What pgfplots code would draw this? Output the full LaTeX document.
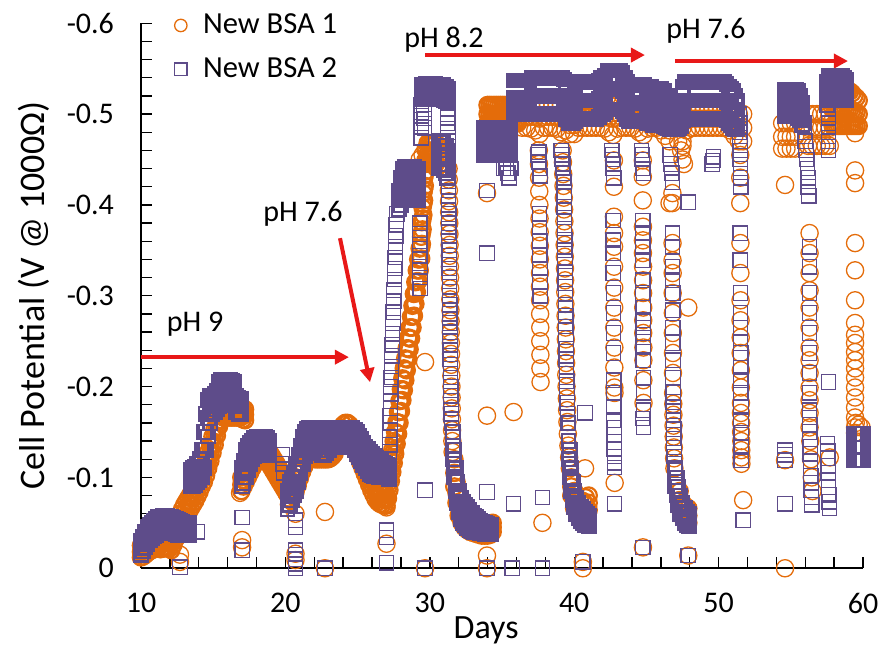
\documentclass[border=0pt]{standalone}
\usepackage{fontspec}
\setmainfont{Carlito}
\usepackage{pgfplots}
\usepackage{pgfplotstable}
\pgfplotsset{compat=1.18}
\usetikzlibrary{arrows.meta}
\definecolor{bsaor}{RGB}{228,108,10}
\definecolor{bsapu}{RGB}{94,76,138}
\definecolor{arrred}{RGB}{232,24,24}

\pgfplotstableread{
x a b c
10.0 -0.030 -0.022 -0.015
10.15 -0.035 -0.027 -0.019
10.3 -0.040 -0.032 -0.023
10.45 -0.045 -0.036 -0.027
10.6 -0.048 -0.040 -0.031
10.75 -0.050 -0.042 -0.033
10.9 -0.052 -0.044 -0.035
11.05 -0.054 -0.046 -0.037
11.2 -0.056 -0.048 -0.039
11.35 -0.057 -0.049 -0.040
11.5 -0.058 -0.050 -0.041
11.65 -0.058 -0.050 -0.042
11.8 -0.058 -0.050 -0.042
11.95 -0.057 -0.049 -0.041
12.1 -0.056 -0.048 -0.040
12.25 -0.055 -0.047 -0.039
12.4 -0.054 -0.046 -0.038
12.55 -0.053 -0.045 -0.037
12.7 -0.052 -0.044 -0.036
12.85 -0.051 -0.043 -0.036
13.0 -0.050 -0.043 -0.036
13.15 -0.050 -0.043 -0.036
13.3 -0.050 -0.043 -0.036
13.45 -0.108 -0.099 -0.090
13.6 -0.110 -0.100 -0.090
13.75 -0.112 -0.102 -0.092
13.9 -0.115 -0.105 -0.095
14.05 -0.120 -0.108 -0.097
14.2 -0.130 -0.115 -0.100
14.35 -0.150 -0.130 -0.110
14.5 -0.170 -0.150 -0.130
14.65 -0.185 -0.165 -0.145
14.8 -0.190 -0.175 -0.160
14.95 -0.190 -0.180 -0.170
15.1 -0.192 -0.182 -0.172
15.25 -0.195 -0.185 -0.175
15.4 -0.205 -0.192 -0.178
15.55 -0.207 -0.194 -0.180
15.7 -0.207 -0.195 -0.182
15.85 -0.207 -0.195 -0.182
16.0 -0.207 -0.195 -0.182
16.15 -0.207 -0.195 -0.182
16.3 -0.206 -0.194 -0.182
16.45 -0.205 -0.193 -0.180
16.6 -0.190 -0.180 -0.172
16.75 -0.188 -0.178 -0.170
16.9 -0.186 -0.178 -0.170
17.0 -0.110 -0.100 -0.090
17.1 -0.118 -0.106 -0.094
17.25 -0.130 -0.115 -0.100
17.4 -0.135 -0.122 -0.108
17.55 -0.138 -0.127 -0.115
17.7 -0.140 -0.130 -0.120
17.85 -0.143 -0.133 -0.124
18.0 -0.145 -0.135 -0.126
18.15 -0.145 -0.136 -0.127
18.3 -0.145 -0.137 -0.128
18.45 -0.145 -0.137 -0.128
18.6 -0.145 -0.137 -0.128
18.75 -0.144 -0.136 -0.128
18.9 -0.140 -0.133 -0.125
20.15 -0.085 -0.075 -0.065
20.3 -0.095 -0.082 -0.070
20.45 -0.100 -0.088 -0.075
20.6 -0.105 -0.092 -0.080
20.75 -0.115 -0.100 -0.085
20.9 -0.125 -0.110 -0.095
21.05 -0.135 -0.120 -0.105
21.2 -0.145 -0.130 -0.115
21.35 -0.150 -0.137 -0.123
21.5 -0.153 -0.142 -0.130
21.65 -0.155 -0.144 -0.132
21.8 -0.155 -0.144 -0.133
21.95 -0.155 -0.144 -0.133
22.1 -0.155 -0.144 -0.133
22.25 -0.155 -0.143 -0.130
22.4 -0.155 -0.141 -0.127
22.55 -0.155 -0.140 -0.125
22.7 -0.155 -0.140 -0.125
22.85 -0.155 -0.141 -0.127
23.0 -0.155 -0.143 -0.130
23.15 -0.155 -0.144 -0.133
23.3 -0.155 -0.144 -0.133
23.45 -0.155 -0.144 -0.133
23.6 -0.155 -0.144 -0.133
23.75 -0.155 -0.144 -0.134
23.9 -0.155 -0.145 -0.135
24.05 -0.155 -0.145 -0.135
24.2 -0.155 -0.145 -0.135
24.35 -0.155 -0.145 -0.135
24.5 -0.155 -0.145 -0.135
24.65 -0.154 -0.143 -0.133
24.8 -0.152 -0.141 -0.130
24.95 -0.150 -0.138 -0.126
25.1 -0.146 -0.134 -0.122
25.25 -0.142 -0.130 -0.118
25.4 -0.138 -0.126 -0.114
25.55 -0.134 -0.122 -0.110
25.7 -0.131 -0.119 -0.107
25.85 -0.128 -0.116 -0.104
26.0 -0.126 -0.114 -0.103
26.15 -0.124 -0.113 -0.102
26.3 -0.122 -0.112 -0.101
26.45 -0.120 -0.110 -0.100
26.6 -0.118 -0.109 -0.100
26.75 -0.116 -0.108 -0.100
26.9 -0.115 -0.107 -0.100
27.05 -0.114 -0.106 -0.100
27.2 -0.113 -0.105 -0.098
27.85 -0.415 -0.405 -0.395
28.0 -0.430 -0.415 -0.400
28.15 -0.440 -0.423 -0.405
28.3 -0.442 -0.425 -0.405
28.45 -0.442 -0.425 -0.405
28.6 -0.442 -0.425 -0.405
28.75 -0.442 -0.425 -0.405
28.9 -0.442 -0.425 -0.405
29.05 -0.440 -0.423 -0.405
29.2 -0.440 -0.423 -0.405
29.45 -0.532 -0.524 -0.516
29.6 -0.532 -0.524 -0.516
29.75 -0.533 -0.524 -0.516
29.9 -0.533 -0.524 -0.516
30.05 -0.533 -0.524 -0.516
30.2 -0.533 -0.524 -0.516
30.35 -0.533 -0.524 -0.516
30.5 -0.532 -0.524 -0.516
30.65 -0.532 -0.524 -0.516
30.8 -0.532 -0.524 -0.516
30.95 -0.532 -0.523 -0.515
31.1 -0.530 -0.522 -0.514
31.25 -0.528 -0.520 -0.512
30.65 -0.470 -0.455 -0.440
30.8 -0.470 -0.455 -0.440
30.95 -0.468 -0.453 -0.438
31.1 -0.465 -0.450 -0.435
31.25 -0.460 -0.445 -0.430
31.6 -0.150 -0.135 -0.120
31.7 -0.130 -0.115 -0.100
31.8 -0.110 -0.097 -0.085
31.9 -0.095 -0.083 -0.072
32.0 -0.085 -0.073 -0.062
32.15 -0.078 -0.066 -0.054
32.3 -0.073 -0.062 -0.050
32.45 -0.070 -0.058 -0.047
32.6 -0.067 -0.055 -0.044
32.75 -0.064 -0.053 -0.042
32.9 -0.061 -0.051 -0.041
33.05 -0.058 -0.049 -0.040
33.2 -0.056 -0.048 -0.040
33.35 -0.054 -0.047 -0.040
33.5 -0.052 -0.046 -0.039
33.65 -0.051 -0.045 -0.039
33.8 -0.050 -0.044 -0.038
33.95 -0.049 -0.043 -0.038
34.1 -0.048 -0.043 -0.038
34.25 -0.048 -0.043 -0.038
33.75 -0.485 -0.470 -0.455
33.9 -0.485 -0.470 -0.455
34.05 -0.485 -0.470 -0.455
34.2 -0.485 -0.470 -0.455
34.35 -0.485 -0.470 -0.455
34.5 -0.485 -0.470 -0.455
34.65 -0.485 -0.470 -0.455
34.8 -0.485 -0.470 -0.455
34.95 -0.485 -0.470 -0.455
35.1 -0.485 -0.470 -0.455
35.25 -0.485 -0.470 -0.455
35.4 -0.485 -0.470 -0.455
35.55 -0.485 -0.470 -0.455
35.85 -0.537 -0.518 -0.500
36.0 -0.537 -0.518 -0.500
36.15 -0.537 -0.518 -0.500
36.3 -0.537 -0.518 -0.500
36.45 -0.537 -0.518 -0.500
36.6 -0.537 -0.518 -0.500
36.75 -0.537 -0.518 -0.500
36.9 -0.537 -0.518 -0.500
37.05 -0.540 -0.520 -0.500
37.2 -0.540 -0.520 -0.500
37.35 -0.540 -0.520 -0.500
37.5 -0.540 -0.520 -0.500
37.65 -0.540 -0.520 -0.500
37.8 -0.540 -0.520 -0.500
37.95 -0.540 -0.520 -0.500
38.1 -0.540 -0.520 -0.500
38.25 -0.540 -0.520 -0.500
38.4 -0.540 -0.520 -0.500
38.55 -0.540 -0.520 -0.500
38.7 -0.540 -0.520 -0.500
38.85 -0.540 -0.520 -0.500
39.0 -0.540 -0.520 -0.500
39.15 -0.540 -0.520 -0.500
39.3 -0.538 -0.518 -0.500
39.45 -0.530 -0.512 -0.495
39.6 -0.520 -0.505 -0.490
39.75 -0.520 -0.505 -0.490
39.9 -0.520 -0.505 -0.490
40.05 -0.525 -0.508 -0.492
40.2 -0.535 -0.515 -0.495
40.35 -0.535 -0.515 -0.495
40.5 -0.535 -0.515 -0.495
40.65 -0.535 -0.515 -0.495
40.8 -0.535 -0.515 -0.495
40.95 -0.535 -0.515 -0.495
41.1 -0.535 -0.515 -0.495
41.25 -0.535 -0.515 -0.495
41.4 -0.535 -0.515 -0.495
41.55 -0.535 -0.515 -0.495
41.7 -0.537 -0.517 -0.497
41.85 -0.540 -0.520 -0.500
42.0 -0.540 -0.520 -0.500
42.15 -0.542 -0.522 -0.502
42.3 -0.548 -0.528 -0.505
42.45 -0.548 -0.528 -0.505
42.6 -0.548 -0.528 -0.505
42.75 -0.548 -0.528 -0.505
42.9 -0.548 -0.528 -0.505
43.05 -0.548 -0.528 -0.505
43.2 -0.548 -0.528 -0.505
43.35 -0.545 -0.525 -0.503
43.5 -0.540 -0.520 -0.500
43.65 -0.535 -0.515 -0.495
43.8 -0.532 -0.512 -0.492
43.95 -0.532 -0.512 -0.492
44.1 -0.532 -0.512 -0.492
44.25 -0.532 -0.512 -0.492
44.4 -0.532 -0.512 -0.492
44.55 -0.532 -0.512 -0.492
44.7 -0.532 -0.512 -0.492
44.85 -0.532 -0.512 -0.492
45.0 -0.530 -0.510 -0.490
45.15 -0.530 -0.510 -0.490
45.3 -0.530 -0.510 -0.490
45.45 -0.528 -0.508 -0.488
45.6 -0.528 -0.508 -0.488
45.75 -0.528 -0.508 -0.488
45.9 -0.528 -0.508 -0.488
46.05 -0.528 -0.508 -0.488
46.2 -0.525 -0.506 -0.487
46.35 -0.520 -0.503 -0.486
46.5 -0.515 -0.500 -0.485
46.65 -0.510 -0.497 -0.484
46.8 -0.510 -0.497 -0.484
46.95 -0.510 -0.497 -0.484
47.1 -0.512 -0.498 -0.484
47.25 -0.515 -0.500 -0.485
47.4 -0.520 -0.503 -0.487
47.55 -0.530 -0.512 -0.493
47.7 -0.535 -0.515 -0.495
47.85 -0.535 -0.515 -0.495
48.0 -0.535 -0.515 -0.495
48.15 -0.535 -0.515 -0.495
48.3 -0.535 -0.515 -0.495
48.45 -0.535 -0.515 -0.495
48.6 -0.535 -0.515 -0.495
48.75 -0.535 -0.515 -0.495
48.9 -0.535 -0.515 -0.495
49.05 -0.535 -0.515 -0.495
49.2 -0.535 -0.515 -0.495
49.35 -0.535 -0.515 -0.495
49.5 -0.535 -0.515 -0.495
49.65 -0.535 -0.515 -0.495
49.8 -0.535 -0.515 -0.495
49.95 -0.535 -0.515 -0.495
50.1 -0.535 -0.515 -0.495
50.25 -0.535 -0.515 -0.495
50.4 -0.535 -0.515 -0.495
50.55 -0.533 -0.513 -0.493
50.7 -0.530 -0.510 -0.490
50.85 -0.528 -0.508 -0.488
51.0 -0.525 -0.505 -0.485
51.15 -0.520 -0.502 -0.484
51.3 -0.515 -0.500 -0.484
54.6 -0.527 -0.512 -0.498
54.75 -0.527 -0.512 -0.498
54.9 -0.527 -0.512 -0.498
55.05 -0.527 -0.512 -0.498
55.2 -0.527 -0.512 -0.498
55.35 -0.527 -0.512 -0.498
55.5 -0.525 -0.510 -0.496
55.65 -0.520 -0.506 -0.493
55.8 -0.512 -0.500 -0.488
57.5 -0.535 -0.522 -0.510
57.65 -0.542 -0.528 -0.515
57.8 -0.542 -0.528 -0.515
57.95 -0.542 -0.528 -0.515
58.1 -0.542 -0.528 -0.515
58.25 -0.542 -0.528 -0.515
58.4 -0.542 -0.528 -0.515
58.55 -0.542 -0.528 -0.515
58.7 -0.540 -0.527 -0.515
58.85 -0.538 -0.526 -0.515
59.4 -0.148 -0.133 -0.119
59.55 -0.148 -0.133 -0.119
59.7 -0.148 -0.133 -0.119
59.85 -0.148 -0.133 -0.119
60.0 -0.148 -0.133 -0.119
39.6 -0.160 -0.140 -0.120
39.7 -0.130 -0.115 -0.100
39.8 -0.110 -0.098 -0.085
39.9 -0.095 -0.085 -0.075
40.0 -0.085 -0.076 -0.067
40.15 -0.077 -0.068 -0.060
40.3 -0.072 -0.063 -0.055
40.45 -0.068 -0.060 -0.052
40.6 -0.065 -0.057 -0.050
40.75 -0.062 -0.055 -0.048
40.9 -0.060 -0.053 -0.047
41.0 -0.058 -0.052 -0.046
47.0 -0.110 -0.100 -0.090
47.1 -0.100 -0.090 -0.080
47.2 -0.090 -0.080 -0.070
47.35 -0.080 -0.070 -0.060
47.5 -0.072 -0.062 -0.055
47.65 -0.066 -0.057 -0.050
47.8 -0.062 -0.054 -0.047
47.95 -0.060 -0.052 -0.046
}\Pmain

\pgfplotstableread{
x y
12.7 -0.001
13.9 -0.040
17.0 -0.111
17.0 -0.056
17.0 -0.020
19.8 -0.125
19.85 -0.115
19.9 -0.105
20.7 -0.053
20.7 -0.045
20.7 -0.020
20.7 -0.015
20.7 -0.010
20.7 -0.005
20.7 0.000
22.74 0.000
27.0 -0.042
27.0 -0.034
27.0 -0.006
29.67 -0.086
29.67 0.000
27.20 -0.120
27.21 -0.128
27.22 -0.136
27.23 -0.144
27.24 -0.152
27.25 -0.160
27.26 -0.168
27.27 -0.176
27.28 -0.184
27.29 -0.192
27.30 -0.200
27.32 -0.210
27.35 -0.222
27.37 -0.234
27.40 -0.246
27.42 -0.258
27.45 -0.270
27.47 -0.282
27.50 -0.294
27.52 -0.306
27.55 -0.318
27.57 -0.330
27.60 -0.342
27.62 -0.354
27.65 -0.366
27.68 -0.378
27.72 -0.390
29.30 -0.380
29.30 -0.368
29.31 -0.356
29.31 -0.344
29.32 -0.332
29.32 -0.320
29.33 -0.308
29.40 -0.510
29.40 -0.498
29.41 -0.486
29.41 -0.474
29.60 -0.505
29.62 -0.495
29.64 -0.485
30.90 -0.460
30.95 -0.450
31.00 -0.440
31.05 -0.465
31.10 -0.452
31.15 -0.440
31.20 -0.430
31.25 -0.500
31.25 -0.490
31.26 -0.480
31.26 -0.470
31.27 -0.460
31.27 -0.450
31.28 -0.440
31.28 -0.430
31.29 -0.420
31.30 -0.410
31.30 -0.400
31.31 -0.390
31.32 -0.380
31.32 -0.370
31.33 -0.360
31.34 -0.350
31.34 -0.340
31.35 -0.330
31.36 -0.320
31.36 -0.310
31.37 -0.300
31.38 -0.290
31.38 -0.280
31.39 -0.270
31.40 -0.260
31.40 -0.250
31.41 -0.240
31.42 -0.230
31.43 -0.220
31.44 -0.210
31.45 -0.200
31.46 -0.190
31.47 -0.180
31.48 -0.170
31.50 -0.160
33.96 -0.416
33.96 -0.347
33.96 -0.084
33.96 0.000
35.10 -0.440
35.30 -0.440
35.40 -0.435
35.50 -0.430
35.60 -0.440
35.8 -0.071
35.7 0.000
37.50 -0.455
37.55 -0.447
37.60 -0.440
37.65 -0.432
37.55 -0.458
37.60 -0.390
37.60 -0.375
37.62 -0.360
37.62 -0.345
37.63 -0.330
37.63 -0.315
37.64 -0.300
37.8 -0.078
37.8 0.000
39.10 -0.460
39.15 -0.450
39.20 -0.440
39.25 -0.430
39.15 -0.455
39.20 -0.445
39.25 -0.435
39.30 -0.425
39.30 -0.410
39.31 -0.398
39.32 -0.386
39.33 -0.374
39.34 -0.362
39.35 -0.350
39.36 -0.338
39.37 -0.326
39.38 -0.314
39.39 -0.302
39.40 -0.290
39.41 -0.278
39.42 -0.266
39.43 -0.254
39.44 -0.242
39.45 -0.230
39.46 -0.218
39.48 -0.206
39.50 -0.194
39.52 -0.182
39.54 -0.170
39.56 -0.160
40.6 -0.007
40.75 -0.171
42.60 -0.460
42.65 -0.450
42.70 -0.440
42.75 -0.430
42.65 -0.455
42.70 -0.445
42.70 -0.383
42.70 -0.361
42.71 -0.347
42.71 -0.325
42.72 -0.303
42.72 -0.281
42.73 -0.259
42.73 -0.237
42.74 -0.207
42.74 -0.193
42.75 -0.177
42.75 -0.163
42.76 -0.155
42.76 -0.147
42.77 -0.139
42.77 -0.131
42.78 -0.123
42.78 -0.116
42.79 -0.111
42.8 -0.071
44.65 -0.460
44.70 -0.450
44.75 -0.440
44.80 -0.435
44.70 -0.455
44.75 -0.383
44.75 -0.369
44.75 -0.354
44.76 -0.339
44.76 -0.317
44.76 -0.303
44.77 -0.287
44.77 -0.273
44.77 -0.265
44.78 -0.254
44.78 -0.243
44.78 -0.229
44.79 -0.210
44.79 -0.193
44.80 -0.174
44.80 -0.155
44.76 -0.165
44.76 -0.023
46.65 -0.455
46.70 -0.445
46.75 -0.435
46.80 -0.425
46.80 -0.369
46.80 -0.354
46.81 -0.332
46.81 -0.317
46.82 -0.303
46.82 -0.284
46.83 -0.265
46.83 -0.248
46.84 -0.229
46.84 -0.210
46.85 -0.193
46.86 -0.183
46.87 -0.173
46.88 -0.163
46.89 -0.153
46.90 -0.143
46.91 -0.133
46.92 -0.123
46.94 -0.115
46.96 -0.108
47.9 -0.403
47.9 -0.014
49.55 -0.445
49.60 -0.449
49.65 -0.453
51.45 -0.500
51.46 -0.490
51.47 -0.480
51.48 -0.470
51.49 -0.460
51.50 -0.450
51.51 -0.440
51.52 -0.430
51.53 -0.420
51.50 -0.369
51.50 -0.339
51.51 -0.303
51.51 -0.281
51.52 -0.265
51.52 -0.248
51.53 -0.237
51.53 -0.221
51.54 -0.207
51.54 -0.193
51.55 -0.177
51.55 -0.163
51.56 -0.149
51.56 -0.133
51.57 -0.119
51.7 -0.053
54.6 -0.071
54.6 -0.119
54.6 -0.125
54.6 -0.130
55.90 -0.490
55.95 -0.480
56.00 -0.470
56.05 -0.460
56.10 -0.450
56.15 -0.440
56.20 -0.430
56.20 -0.420
56.25 -0.410
56.30 -0.354
56.30 -0.332
56.30 -0.303
56.30 -0.281
56.30 -0.259
56.30 -0.237
56.30 -0.215
56.30 -0.193
56.30 -0.174
56.30 -0.166
56.31 -0.158
56.32 -0.150
56.33 -0.142
56.34 -0.134
56.35 -0.126
56.36 -0.118
56.37 -0.110
56.38 -0.102
56.40 -0.094
56.42 -0.086
56.44 -0.078
56.46 -0.070
57.55 -0.137
57.56 -0.129
57.57 -0.121
57.58 -0.113
57.59 -0.105
57.60 -0.097
57.62 -0.089
57.64 -0.081
57.66 -0.073
57.68 -0.066
57.60 -0.510
57.60 -0.500
57.60 -0.490
57.60 -0.480
57.60 -0.470
57.60 -0.460
57.6 -0.205
}\Pcol

\pgfplotstableread{
x a b c
10.0 -0.025 -0.018 -0.012
10.15 -0.028 -0.020 -0.013
10.3 -0.030 -0.022 -0.015
10.45 -0.032 -0.024 -0.017
10.6 -0.034 -0.026 -0.019
10.75 -0.036 -0.028 -0.020
10.9 -0.037 -0.029 -0.021
11.05 -0.037 -0.029 -0.022
11.2 -0.036 -0.029 -0.022
11.35 -0.035 -0.028 -0.021
11.5 -0.034 -0.028 -0.022
11.65 -0.034 -0.028 -0.022
11.8 -0.034 -0.028 -0.022
11.95 -0.034 -0.028 -0.022
12.1 -0.035 -0.028 -0.020
12.25 -0.042 -0.034 -0.026
12.4 -0.048 -0.040 -0.032
12.55 -0.054 -0.046 -0.038
12.7 -0.060 -0.051 -0.042
12.85 -0.065 -0.056 -0.047
13.0 -0.070 -0.061 -0.052
13.15 -0.074 -0.066 -0.057
13.3 -0.078 -0.070 -0.062
13.45 -0.082 -0.074 -0.066
13.6 -0.086 -0.078 -0.070
13.75 -0.090 -0.082 -0.074
13.9 -0.095 -0.087 -0.079
14.05 -0.100 -0.092 -0.084
14.2 -0.106 -0.098 -0.090
14.35 -0.113 -0.104 -0.095
14.5 -0.120 -0.111 -0.102
14.65 -0.128 -0.119 -0.110
14.8 -0.136 -0.127 -0.118
14.95 -0.145 -0.136 -0.127
15.1 -0.154 -0.145 -0.136
15.25 -0.162 -0.154 -0.146
15.4 -0.170 -0.163 -0.156
15.55 -0.175 -0.169 -0.163
15.7 -0.178 -0.172 -0.166
15.85 -0.178 -0.172 -0.166
16.0 -0.178 -0.172 -0.166
16.15 -0.178 -0.172 -0.166
16.3 -0.178 -0.172 -0.166
16.45 -0.178 -0.172 -0.166
16.6 -0.178 -0.172 -0.166
16.75 -0.178 -0.172 -0.166
16.9 -0.178 -0.172 -0.166
17.05 -0.176 -0.170 -0.164
17.2 -0.175 -0.169 -0.163
16.95 -0.100 -0.092 -0.085
17.1 -0.105 -0.097 -0.090
17.25 -0.110 -0.102 -0.095
17.4 -0.115 -0.107 -0.100
17.55 -0.120 -0.112 -0.105
17.7 -0.124 -0.117 -0.110
17.85 -0.128 -0.121 -0.114
18.0 -0.131 -0.124 -0.117
18.15 -0.133 -0.126 -0.119
18.3 -0.134 -0.127 -0.120
18.45 -0.134 -0.127 -0.120
18.6 -0.133 -0.126 -0.119
18.75 -0.131 -0.124 -0.117
18.9 -0.128 -0.121 -0.114
19.05 -0.124 -0.117 -0.110
19.2 -0.120 -0.113 -0.106
19.35 -0.116 -0.109 -0.102
19.5 -0.112 -0.105 -0.098
19.65 -0.108 -0.101 -0.094
19.8 -0.104 -0.097 -0.090
19.95 -0.100 -0.093 -0.086
20.1 -0.096 -0.089 -0.082
20.25 -0.085 -0.077 -0.070
20.4 -0.090 -0.082 -0.074
20.55 -0.095 -0.087 -0.079
20.7 -0.100 -0.092 -0.084
20.85 -0.107 -0.099 -0.091
21.0 -0.115 -0.107 -0.099
21.15 -0.122 -0.114 -0.106
21.3 -0.128 -0.120 -0.112
21.45 -0.132 -0.125 -0.118
21.6 -0.136 -0.129 -0.122
21.75 -0.136 -0.129 -0.122
21.9 -0.136 -0.129 -0.122
22.05 -0.134 -0.127 -0.120
22.2 -0.132 -0.126 -0.120
22.35 -0.132 -0.126 -0.120
22.5 -0.132 -0.126 -0.120
22.65 -0.132 -0.126 -0.120
22.8 -0.132 -0.126 -0.120
22.95 -0.132 -0.126 -0.120
23.1 -0.133 -0.127 -0.121
23.25 -0.135 -0.129 -0.123
23.4 -0.140 -0.133 -0.126
23.55 -0.146 -0.139 -0.132
23.7 -0.151 -0.144 -0.137
23.85 -0.155 -0.148 -0.141
24.0 -0.158 -0.151 -0.144
24.15 -0.160 -0.153 -0.146
24.3 -0.160 -0.153 -0.146
24.45 -0.158 -0.151 -0.144
24.6 -0.154 -0.147 -0.140
24.75 -0.148 -0.141 -0.134
24.9 -0.142 -0.135 -0.128
25.05 -0.136 -0.129 -0.122
25.2 -0.130 -0.123 -0.116
25.35 -0.124 -0.117 -0.110
25.5 -0.118 -0.111 -0.104
25.65 -0.112 -0.105 -0.098
25.8 -0.106 -0.099 -0.092
25.95 -0.100 -0.093 -0.086
26.1 -0.095 -0.088 -0.081
26.25 -0.090 -0.083 -0.076
26.4 -0.087 -0.080 -0.073
26.55 -0.085 -0.078 -0.071
26.7 -0.083 -0.076 -0.070
26.85 -0.082 -0.075 -0.069
27.0 -0.081 -0.075 -0.069
27.1 -0.101 -0.089 -0.077
27.2 -0.110 -0.098 -0.086
27.3 -0.120 -0.108 -0.096
27.4 -0.130 -0.118 -0.106
27.5 -0.140 -0.128 -0.116
27.6 -0.150 -0.138 -0.126
27.7 -0.161 -0.149 -0.137
27.8 -0.172 -0.160 -0.148
27.9 -0.184 -0.172 -0.160
28.0 -0.197 -0.185 -0.173
28.1 -0.209 -0.197 -0.185
28.2 -0.220 -0.208 -0.196
28.3 -0.231 -0.219 -0.207
28.4 -0.242 -0.230 -0.218
28.5 -0.254 -0.242 -0.230
28.6 -0.265 -0.253 -0.241
28.7 -0.277 -0.265 -0.253
28.8 -0.289 -0.277 -0.265
28.9 -0.302 -0.290 -0.278
29.0 -0.315 -0.303 -0.291
29.1 -0.328 -0.316 -0.304
29.2 -0.340 -0.328 -0.316
29.3 -0.352 -0.340 -0.328
29.4 -0.365 -0.353 -0.341
29.45 -0.381 -0.369 -0.357
29.5 -0.397 -0.385 -0.373
29.55 -0.413 -0.401 -0.389
29.6 -0.429 -0.417 -0.405
29.65 -0.445 -0.433 -0.421
29.7 -0.461 -0.449 -0.437
29.85 -0.468 -0.456 -0.446
30.0 -0.468 -0.456 -0.446
30.15 -0.468 -0.456 -0.446
30.3 -0.468 -0.456 -0.446
30.45 -0.468 -0.456 -0.446
30.6 -0.465 -0.453 -0.443
31.7 -0.120 -0.105 -0.090
31.85 -0.095 -0.083 -0.072
32.0 -0.080 -0.069 -0.058
32.2 -0.070 -0.060 -0.050
32.4 -0.065 -0.055 -0.045
32.6 -0.060 -0.051 -0.042
32.8 -0.056 -0.048 -0.040
33.0 -0.053 -0.046 -0.039
33.2 -0.051 -0.044 -0.038
33.4 -0.050 -0.043 -0.037
33.6 -0.049 -0.042 -0.036
33.8 -0.048 -0.042 -0.036
34.0 -0.048 -0.042 -0.036
34.2 -0.049 -0.043 -0.037
34.35 -0.050 -0.045 -0.040
34.0 -0.510 -0.500 -0.490
34.15 -0.510 -0.500 -0.490
34.3 -0.510 -0.500 -0.490
34.45 -0.510 -0.500 -0.490
34.6 -0.510 -0.500 -0.490
34.75 -0.510 -0.500 -0.490
34.9 -0.510 -0.500 -0.490
35.05 -0.510 -0.500 -0.490
35.2 -0.510 -0.500 -0.490
35.35 -0.510 -0.500 -0.490
35.5 -0.510 -0.500 -0.490
35.65 -0.510 -0.500 -0.490
35.8 -0.510 -0.500 -0.490
35.95 -0.510 -0.500 -0.490
36.1 -0.510 -0.500 -0.490
57.9 -0.525 -0.505 -0.487
58.05 -0.525 -0.505 -0.487
58.2 -0.525 -0.505 -0.487
58.35 -0.525 -0.505 -0.487
58.5 -0.525 -0.505 -0.487
58.65 -0.525 -0.505 -0.487
58.8 -0.525 -0.505 -0.487
58.95 -0.525 -0.505 -0.487
59.1 -0.525 -0.505 -0.487
59.25 -0.523 -0.504 -0.487
59.4 -0.520 -0.503 -0.487
59.55 -0.518 -0.502 -0.487
59.7 -0.515 -0.500 -0.487
39.8 -0.100 -0.090 -0.080
40.0 -0.085 -0.075 -0.066
40.2 -0.078 -0.068 -0.060
40.4 -0.075 -0.066 -0.058
40.6 -0.074 -0.066 -0.058
40.8 -0.078 -0.070 -0.062
41.0 -0.080 -0.072 -0.064
47.3 -0.085 -0.075 -0.066
47.5 -0.072 -0.064 -0.056
47.7 -0.068 -0.060 -0.052
47.9 -0.066 -0.058 -0.050
}\Omain

\pgfplotstableread{
x a b c
36.4 -0.510 -0.497 -0.485
36.7 -0.510 -0.497 -0.485
37.0 -0.510 -0.497 -0.484
37.3 -0.510 -0.497 -0.482
37.6 -0.510 -0.495 -0.478
37.9 -0.510 -0.497 -0.485
38.2 -0.510 -0.497 -0.485
38.5 -0.510 -0.497 -0.485
38.8 -0.510 -0.497 -0.484
39.1 -0.510 -0.496 -0.480
39.4 -0.505 -0.493 -0.482
39.7 -0.500 -0.488 -0.478
40.0 -0.500 -0.488 -0.478
40.3 -0.510 -0.497 -0.485
40.6 -0.510 -0.497 -0.485
40.9 -0.510 -0.497 -0.485
41.2 -0.510 -0.497 -0.485
41.5 -0.510 -0.497 -0.485
41.8 -0.510 -0.497 -0.485
42.1 -0.510 -0.497 -0.484
42.4 -0.510 -0.496 -0.480
42.7 -0.510 -0.495 -0.477
43.0 -0.510 -0.497 -0.484
43.3 -0.510 -0.497 -0.485
43.6 -0.510 -0.497 -0.485
43.9 -0.510 -0.497 -0.485
44.2 -0.510 -0.497 -0.484
44.5 -0.510 -0.496 -0.480
44.8 -0.510 -0.495 -0.477
45.1 -0.510 -0.497 -0.484
45.4 -0.510 -0.497 -0.485
45.7 -0.510 -0.497 -0.485
46.0 -0.508 -0.495 -0.482
46.3 -0.500 -0.488 -0.476
46.6 -0.495 -0.482 -0.470
47.2 -0.500 -0.485 -0.470
47.5 -0.500 -0.485 -0.470
47.8 -0.505 -0.493 -0.482
48.1 -0.505 -0.495 -0.485
48.4 -0.505 -0.495 -0.485
48.7 -0.505 -0.495 -0.485
49.0 -0.505 -0.495 -0.485
49.3 -0.505 -0.495 -0.485
49.6 -0.505 -0.495 -0.485
49.9 -0.505 -0.495 -0.485
50.2 -0.505 -0.495 -0.485
50.5 -0.505 -0.495 -0.485
50.8 -0.505 -0.493 -0.482
51.1 -0.500 -0.488 -0.476
51.4 -0.500 -0.485 -0.470
51.7 -0.500 -0.485 -0.470
54.4 -0.490 -0.475 -0.462
54.7 -0.490 -0.475 -0.462
55.0 -0.490 -0.475 -0.462
55.3 -0.490 -0.475 -0.462
56.2 -0.500 -0.485 -0.465
56.5 -0.500 -0.485 -0.465
56.8 -0.500 -0.485 -0.465
57.1 -0.500 -0.485 -0.465
57.4 -0.500 -0.485 -0.465
57.7 -0.500 -0.485 -0.465
}\Otop

\pgfplotstableread{
x y
12.7 -0.007
12.7 -0.015
16.86 -0.083
17.0 -0.031
17.0 -0.023
20.7 -0.060
20.7 -0.016
20.7 -0.009
22.74 -0.062
22.74 0.000
27.0 -0.067
27.0 -0.027
29.67 -0.227
29.67 0.000
29.30 -0.450
29.50 -0.455
29.80 -0.458
30.10 -0.452
31.30 -0.440
31.31 -0.428
31.32 -0.416
31.33 -0.404
31.34 -0.392
31.35 -0.380
31.36 -0.368
31.37 -0.356
31.38 -0.344
31.39 -0.332
31.40 -0.320
31.41 -0.308
31.42 -0.296
31.43 -0.284
31.44 -0.272
31.45 -0.260
31.46 -0.248
31.47 -0.236
31.48 -0.224
31.49 -0.212
31.50 -0.200
31.51 -0.188
31.52 -0.176
31.53 -0.164
31.54 -0.152
31.56 -0.140
31.58 -0.128
33.96 -0.168
33.96 -0.413
33.96 -0.014
33.96 0.000
35.8 -0.172
37.55 -0.460
37.56 -0.445
37.57 -0.430
37.58 -0.415
37.59 -0.400
37.60 -0.385
37.61 -0.370
37.62 -0.355
37.62 -0.340
37.63 -0.325
37.63 -0.310
37.64 -0.295
37.64 -0.280
37.65 -0.265
37.65 -0.250
37.66 -0.235
37.66 -0.220
37.67 -0.205
37.8 -0.050
39.20 -0.460
39.22 -0.447
39.24 -0.434
39.26 -0.421
39.28 -0.408
39.30 -0.395
39.32 -0.382
39.33 -0.369
39.34 -0.356
39.35 -0.343
39.36 -0.330
39.37 -0.317
39.38 -0.304
39.39 -0.291
39.40 -0.278
39.41 -0.265
39.42 -0.252
39.43 -0.239
39.44 -0.226
39.45 -0.213
39.47 -0.200
39.49 -0.187
39.51 -0.174
39.53 -0.161
39.56 -0.148
39.60 -0.135
39.65 -0.122
39.70 -0.110
40.6 -0.007
40.6 0.000
40.75 -0.110
42.75 -0.449
42.75 -0.420
42.75 -0.387
42.76 -0.369
42.76 -0.354
42.76 -0.332
42.77 -0.309
42.77 -0.287
42.77 -0.265
42.78 -0.243
42.78 -0.221
42.78 -0.199
42.79 -0.193
42.8 -0.094
44.75 -0.449
44.75 -0.431
44.75 -0.405
44.76 -0.376
44.76 -0.361
44.76 -0.347
44.77 -0.332
44.77 -0.317
44.77 -0.303
44.78 -0.287
44.78 -0.273
44.78 -0.259
44.79 -0.243
44.79 -0.229
44.79 -0.207
44.80 -0.182
44.76 -0.023
46.6 -0.402
46.80 -0.413
46.80 -0.402
46.81 -0.358
46.81 -0.339
46.82 -0.325
46.82 -0.303
46.83 -0.281
46.83 -0.259
46.84 -0.237
46.84 -0.215
46.85 -0.193
46.86 -0.181
46.87 -0.169
46.88 -0.157
46.89 -0.145
46.90 -0.133
46.92 -0.121
46.94 -0.110
47.9 -0.287
47.9 -0.014
47.40 -0.460
47.50 -0.450
47.60 -0.445
47.50 -0.465
51.50 -0.455
51.50 -0.430
51.50 -0.402
51.51 -0.358
51.51 -0.325
51.52 -0.295
51.52 -0.273
51.53 -0.254
51.53 -0.237
51.54 -0.218
51.54 -0.199
51.55 -0.182
51.55 -0.171
51.56 -0.160
51.56 -0.150
51.57 -0.140
51.57 -0.130
51.58 -0.122
51.58 -0.115
51.7 -0.075
54.6 0.000
54.6 -0.422
54.6 -0.119
56.30 -0.369
56.30 -0.347
56.30 -0.325
56.30 -0.306
56.30 -0.287
56.30 -0.265
56.30 -0.243
56.30 -0.229
56.30 -0.215
56.30 -0.199
56.30 -0.185
56.30 -0.171
56.30 -0.155
56.35 -0.140
56.40 -0.120
56.45 -0.100
56.50 -0.085
57.7 -0.122
59.45 -0.479
59.45 -0.438
59.45 -0.424
59.45 -0.358
59.45 -0.328
59.45 -0.295
59.45 -0.270
59.45 -0.257
59.45 -0.248
59.45 -0.238
59.45 -0.229
59.45 -0.220
59.45 -0.210
59.45 -0.199
59.45 -0.188
59.45 -0.177
59.45 -0.166
59.45 -0.155
59.45 -0.149
59.50 -0.160
59.70 -0.158
59.90 -0.155
}\Ocol

\pgfplotsset{
  orst/.style={only marks, color=bsaor, mark=o, mark size=4.3pt, mark options={line width=0.65pt}},
  pust/.style={only marks, color=bsapu, mark=square, mark size=3.6pt, mark options={line width=0.65pt}},
  orband/.style={only marks, color=bsaor, mark=o, mark size=4.1pt, mark options={line width=1.1pt}},
  puband/.style={only marks, color=bsapu, mark=square, mark size=3.4pt, mark options={line width=1.1pt}},
}

\begin{document}
\begin{tikzpicture}
\begin{axis}[
  width=361pt, height=272.5pt, scale only axis,
  xmin=10, xmax=60, ymin=-0.6, ymax=0, y dir=reverse,
  axis x line*=bottom, axis y line*=left,
  axis line style={-, line width=0.8pt, black},
  xtick={10,20,30,40,50,60}, xticklabels={10,20,30,40,50,60},
  minor x tick num=4,
  ytick={-0.6,-0.5,-0.4,-0.3,-0.2,-0.1,0},
  yticklabels={-0.6,-0.5,-0.4,-0.3,-0.2,-0.1,0},
  minor y tick num=4,
  tick align=inside, major tick length=5.5pt, minor tick length=5.5pt,
  every tick/.style={black, line width=0.7pt},
  xticklabel style={font=\fontsize{15}{18}\selectfont, yshift=-9pt},
  yticklabel style={font=\fontsize{15}{18}\selectfont, xshift=-10pt},
  every axis x label/.style={at={(axis description cs:0.478,-0.114)}, anchor=center, font=\fontsize{17}{20}\selectfont},
  every axis y label/.style={at={(axis description cs:-0.148,0.5)}, rotate=90, anchor=center, font=\fontsize{18}{21}\selectfont},
  xlabel={Days}, ylabel={Cell Potential (V @ 1000Ω)},
  clip=false,
  legend style={draw=none, fill=none, at={(axis description cs:0.046,1.025)}, anchor=north west,
    font=\fontsize{15.3}{18}\selectfont, row sep=6.5pt, inner sep=0pt,
    /tikz/every odd column/.append style={column sep=6pt}},
  legend image post style={mark size=3.1pt},
  legend cell align=left,
]
\addplot[orband, forget plot] table[x=x, y=a] {\Omain};
\addplot[orband, forget plot] table[x=x, y=b] {\Omain};
\addplot[orband, forget plot] table[x=x, y=c] {\Omain};
\addplot[orst, forget plot] table[x=x, y=a] {\Otop};
\addplot[orst, forget plot] table[x=x, y=b] {\Otop};
\addplot[orst, forget plot] table[x=x, y=c] {\Otop};
\addplot[orst] table[x=x, y=y] {\Ocol};
\addlegendentry{New BSA 1}
\addplot[puband, forget plot] table[x=x, y=a] {\Pmain};
\addplot[puband, forget plot] table[x=x, y=b] {\Pmain};
\addplot[puband, forget plot] table[x=x, y=c] {\Pmain};
\addplot[pust] table[x=x, y=y] {\Pcol};
\addlegendentry{New BSA 2}

\draw[arrred, line width=2pt, -{Triangle[length=7pt,width=7pt]}] (axis cs:10,-0.2324) -- (axis cs:24.4,-0.2324);
\draw[arrred, line width=2pt, -{Triangle[length=7pt,width=7pt]}] (axis cs:23.78,-0.3634) -- (axis cs:25.86,-0.2048);
\draw[arrred, line width=2pt, -{Triangle[length=7pt,width=7pt]}] (axis cs:29.67,-0.565) -- (axis cs:44.9,-0.565);
\draw[arrred, line width=2pt, -{Triangle[length=7pt,width=7pt]}] (axis cs:46.98,-0.5584) -- (axis cs:58.96,-0.5584);
\node[font=\fontsize{15}{18}\selectfont] at (axis cs:13.74,-0.269) {pH 9};
\node[font=\fontsize{15}{18}\selectfont] at (axis cs:21.22,-0.390) {pH 7.6};
\node[font=\fontsize{15}{18}\selectfont] at (axis cs:30.98,-0.582) {pH 8.2};
\node[font=\fontsize{15}{18}\selectfont] at (axis cs:49.13,-0.592) {pH 7.6};
\path (axis cs:0.235,0.087) rectangle (axis cs:61.80,-0.6256);
\end{axis}
\end{tikzpicture}
\end{document}
